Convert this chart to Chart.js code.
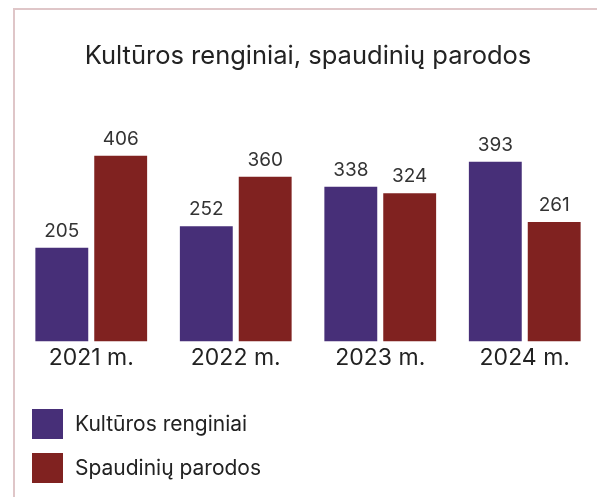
<!DOCTYPE html>
<html lang="lt">
<head>
<meta charset="utf-8">
<title>Kultūros renginiai, spaudinių parodos</title>
<script src="https://cdn.jsdelivr.net/npm/chart.js@4/dist/chart.umd.min.js"></script>
<style>
  html, body { margin: 0; padding: 0; background: #ffffff; }
  #wrap { position: relative; width: 597px; height: 497px; }
</style>
</head>
<body>
<div id="wrap"><canvas id="chart" width="597" height="497"></canvas></div>
<script>
// Metai
const years = ['2021 m.', '2022 m.', '2023 m.', '2024 m.'];
// Renginių skaičius pagal metus
const kulturosRenginiai = [205, 252, 338, 393];
const spaudiniuParodos = [406, 360, 324, 261];
const seriesNames = ['Kultūros renginiai', 'Spaudinių parodos'];
const titleText = 'Kultūros renginiai, spaudinių parodos';

const FONT = 'Inter, "Noto Sans", sans-serif';
const purple = '#472f78';
const wine = '#802220';

// Thin frame along the left and top edges
const framePlugin = {
  id: 'frame',
  beforeDraw(chart) {
    const ctx = chart.ctx;
    ctx.save();
    ctx.fillStyle = '#dfc6c8';
    ctx.fillRect(13, 8, 2, chart.height - 8);
    ctx.fillRect(13, 8, chart.width - 13, 2);
    ctx.restore();
  }
};

// Value above every bar
const valueLabels = {
  id: 'valueLabels',
  afterDatasetsDraw(chart) {
    const ctx = chart.ctx;
    ctx.save();
    ctx.font = '19px ' + FONT;
    ctx.fillStyle = '#333333';
    ctx.textAlign = 'center';
    ctx.textBaseline = 'alphabetic';
    chart.data.datasets.forEach((ds, i) => {
      chart.getDatasetMeta(i).data.forEach((bar, j) => {
        ctx.fillText(String(ds.data[j]), bar.x, bar.y - 11);
      });
    });
    ctx.restore();
  }
};

// Vertical legend under the axis
const stackedLegend = {
  id: 'stackedLegend',
  afterDraw(chart) {
    const ctx = chart.ctx;
    ctx.save();
    ctx.font = '21px ' + FONT;
    ctx.textAlign = 'left';
    ctx.textBaseline = 'middle';
    chart.data.datasets.forEach((ds, i) => {
      const top = 409 + i * 44;
      ctx.fillStyle = ds.backgroundColor;
      ctx.fillRect(32, top, 31, 30);
      ctx.fillStyle = '#222222';
      ctx.fillText(ds.label, 75, top + 16);
    });
    ctx.restore();
  }
};

new Chart(document.getElementById('chart'), {
  type: 'bar',
  data: {
    labels: years,
    datasets: [
      { label: seriesNames[0], data: kulturosRenginiai, backgroundColor: purple },
      { label: seriesNames[1], data: spaudiniuParodos, backgroundColor: wine }
    ]
  },
  options: {
    responsive: false,
    animation: false,
    events: [],
    categoryPercentage: 0.815,
    barPercentage: 0.898,
    layout: { padding: { left: 19, right: 0, top: 0, bottom: 122 } },
    plugins: {
      legend: { display: false },
      tooltip: { enabled: false },
      title: {
        display: true,
        text: titleText,
        color: '#222222',
        font: { family: FONT, size: 25.5, weight: 'normal' },
        padding: { top: 41, bottom: 64 }
      }
    },
    scales: {
      x: {
        grid: { display: false, drawTicks: false },
        border: { display: false },
        ticks: { color: '#222222', font: { family: FONT, size: 23 }, padding: 3 }
      },
      y: {
        display: false,
        min: 0,
        max: 450
      }
    }
  },
  plugins: [framePlugin, valueLabels, stackedLegend]
});
</script>
</body>
</html>
